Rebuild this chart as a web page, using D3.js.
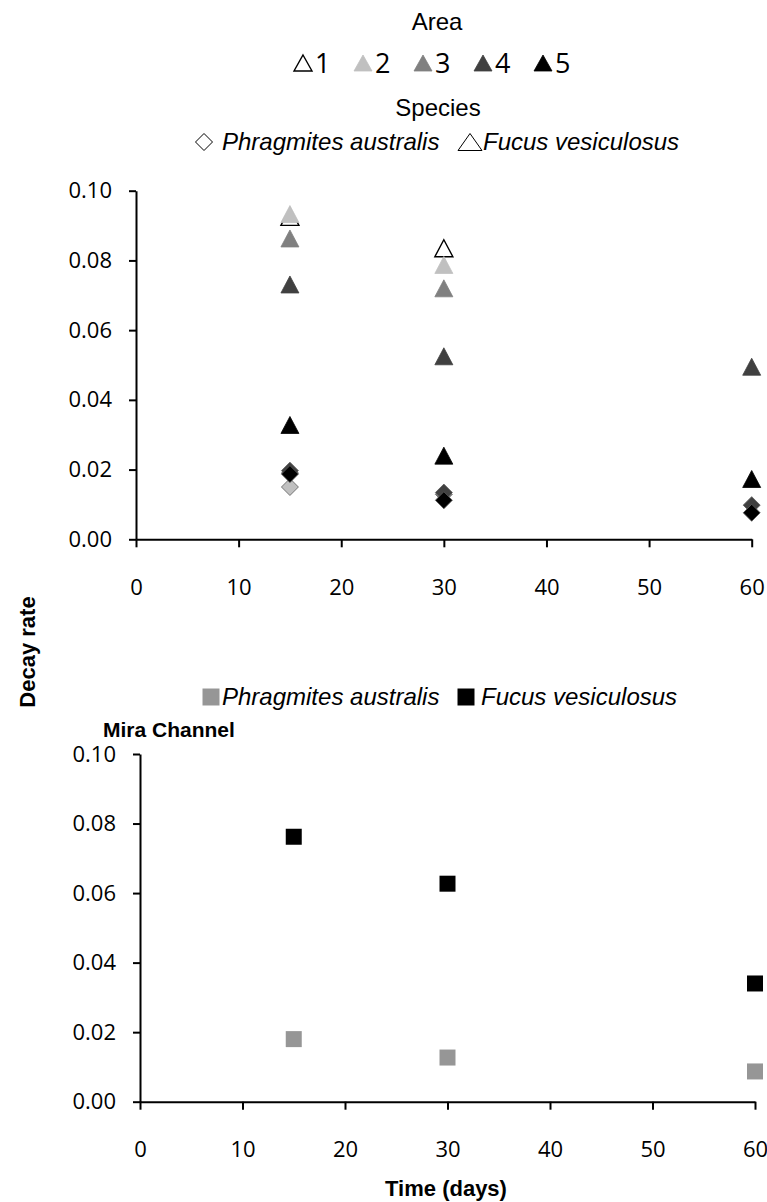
<!DOCTYPE html>
<html>
<head>
<meta charset="utf-8">
<script src="https://cdn.jsdelivr.net/npm/d3@7"></script>
<style>
  body { margin: 0; background: #fff; }
  .tick text { font-family: "Open Sans", sans-serif; font-size: 22px; fill: #000; }
  .lbl { font-family: "Liberation Sans", Arial, sans-serif; fill: #000; }
</style>
</head>
<body>
<div id="chart"></div>
<script>
/* DATA */
const days = [15, 30, 60];
const areas = ["1", "2", "3", "4", "5"];
const species = ["Phragmites australis", "Fucus vesiculosus"];
const xTicks = [0, 10, 20, 30, 40, 50, 60];
const yTicks = [0, 0.02, 0.04, 0.06, 0.08, 0.10];

// Fucus vesiculosus, decay rate by area (null = no value)
const fucusArea1 = [0.0925, 0.0835, null];
const fucusArea2 = [0.0933, 0.0787, null];
const fucusArea3 = [0.0863, 0.0720, null];
const fucusArea4 = [0.0731, 0.0525, 0.0495];
const fucusArea5 = [0.0328, 0.0240, 0.0173];

// Phragmites australis, decay rate by area
const phragArea1 = [null, null, null];
const phragArea2 = [0.0150, null, null];
const phragArea3 = [0.0190, 0.0129, null];
const phragArea4 = [0.0197, 0.0134, 0.0098];
const phragArea5 = [0.0187, 0.0112, 0.0076];

// Mira Channel
const miraPhrag = [0.0180, 0.0127, 0.0087];
const miraFucus = [0.0762, 0.0627, 0.0340];

/* STYLES */
const areaFill = ["#ffffff", "#c0c0c0", "#808080", "#404040", "#000000"];
const miraFill = ["#969696", "#000000"];

/* CONSTANTS */
const width = 767, height = 1202;
const top1 = {left: 136, right: 751.7, top: 190.7, bottom: 539.3};
const top2 = {left: 140, right: 755, top: 754, bottom: 1101.7};

const svg = d3.select("#chart").append("svg")
  .attr("width", width)
  .attr("height", height);

const triPath = (w, h) => `M0,${-h/2}L${w/2},${h/2}L${-w/2},${h/2}Z`;
const diaPath = r => `M0,${-r}L${r},0L0,${r}L${-r},0Z`;
const sqPath = s => `M${-s/2},${-s/2}h${s}v${s}h${-s}Z`;

/* AXES HELPER */
function drawAxes(box) {
  const x = d3.scaleLinear().domain([0, 60]).range([box.left, box.right]);
  const y = d3.scaleLinear().domain([0, 0.10]).range([box.bottom, box.top]);

  svg.append("g")
    .attr("transform", `translate(0,${box.bottom})`)
    .call(d3.axisBottom(x).tickValues(xTicks).tickSize(8).tickSizeOuter(0).tickPadding(32))
    .call(g => g.selectAll("line, path").attr("stroke", "#000").attr("stroke-width", 2));

  svg.append("g")
    .attr("transform", `translate(${box.left},0)`)
    .call(d3.axisLeft(y).tickValues(yTicks).tickFormat(d3.format(".2f")).tickSize(7).tickSizeOuter(0).tickPadding(17))
    .call(g => g.selectAll("line, path").attr("stroke", "#000").attr("stroke-width", 2));

  return {x, y};
}

/* UPPER CHART */
const s1 = drawAxes(top1);

const phragSeries = [phragArea1, phragArea2, phragArea3, phragArea4, phragArea5];
const fucusSeries = [fucusArea1, fucusArea2, fucusArea3, fucusArea4, fucusArea5];

const points = [];
phragSeries.forEach((arr, a) => arr.forEach((v, i) => {
  if (v != null) points.push({sp: 0, area: a, day: days[i], value: v});
}));
fucusSeries.forEach((arr, a) => arr.forEach((v, i) => {
  if (v != null) points.push({sp: 1, area: a, day: days[i], value: v});
}));

svg.append("g").selectAll("path")
  .data(points)
  .join("path")
    .attr("d", d => d.sp === 0 ? diaPath(8.5) : triPath(18, 17))
    .attr("transform", d => `translate(${s1.x(d.day)},${s1.y(d.value)})`)
    .attr("fill", d => areaFill[d.area])
    .attr("stroke", d => d.area === 0 ? "#000" : (d.sp === 0 ? "#5a5a5a" : areaFill[d.area]))
    .attr("stroke-width", d => d.area === 0 ? 1.4 : 0.8);

/* LEGENDS (TOP) */
svg.append("text").attr("class", "lbl")
  .attr("x", 437).attr("y", 30)
  .attr("text-anchor", "middle")
  .style("font-size", "24px")
  .text("Area");

const areaLeg = svg.append("g").selectAll("g")
  .data(areas)
  .join("g")
    .attr("transform", (d, i) => `translate(${303 + i * 60},63)`);

areaLeg.append("path")
  .attr("d", triPath(18, 16))
  .attr("fill", (d, i) => areaFill[i])
  .attr("stroke", (d, i) => i === 0 ? "#000" : areaFill[i])
  .attr("stroke-width", (d, i) => i === 0 ? 1.4 : 0.8);

areaLeg.append("text")
  .attr("x", 12).attr("y", 10)
  .style("font-family", "'Open Sans', sans-serif")
  .style("font-size", "27px")
  .text(d => d);

svg.append("text").attr("class", "lbl")
  .attr("x", 438).attr("y", 116)
  .attr("text-anchor", "middle")
  .style("font-size", "24px")
  .text("Species");

const spLeg = svg.append("g").selectAll("g")
  .data(species)
  .join("g")
    .attr("transform", (d, i) => i === 0 ? "translate(204,142)" : "translate(470,142)");

spLeg.append("path")
  .attr("d", (d, i) => i === 0 ? diaPath(8.5) : triPath(24, 17))
  .attr("fill", "#fff")
  .attr("stroke", "#000")
  .attr("stroke-width", 1);

spLeg.append("text").attr("class", "lbl")
  .attr("x", (d, i) => i === 0 ? 18 : 13)
  .attr("y", 8)
  .style("font-size", "24px")
  .style("font-style", "italic")
  .text(d => d);

/* LOWER CHART */
const s2 = drawAxes(top2);

const miraPoints = [];
[miraPhrag, miraFucus].forEach((arr, s) => arr.forEach((v, i) => {
  miraPoints.push({sp: s, day: days[i], value: v});
}));

svg.append("g").selectAll("path")
  .data(miraPoints)
  .join("path")
    .attr("d", sqPath(16))
    .attr("transform", d => `translate(${s2.x(d.day)},${s2.y(d.value)})`)
    .attr("fill", d => miraFill[d.sp]);

const miraLeg = svg.append("g").selectAll("g")
  .data(species)
  .join("g")
    .attr("transform", (d, i) => i === 0 ? "translate(211,697)" : "translate(466,697)");

miraLeg.append("path")
  .attr("d", sqPath(17))
  .attr("fill", (d, i) => miraFill[i]);

miraLeg.append("text").attr("class", "lbl")
  .attr("x", (d, i) => i === 0 ? 11 : 15)
  .attr("y", 8)
  .style("font-size", "24px")
  .style("font-style", "italic")
  .text(d => d);

svg.append("text").attr("class", "lbl")
  .attr("x", 103).attr("y", 737)
  .style("font-size", "21px")
  .style("font-weight", "bold")
  .text("Mira Channel");

/* AXIS TITLES */
svg.append("text").attr("class", "lbl")
  .attr("transform", "translate(35,652) rotate(-90)")
  .attr("text-anchor", "middle")
  .style("font-size", "22px")
  .style("font-weight", "bold")
  .text("Decay rate");

svg.append("text").attr("class", "lbl")
  .attr("x", 446).attr("y", 1196)
  .attr("text-anchor", "middle")
  .style("font-size", "22px")
  .style("font-weight", "bold")
  .text("Time (days)");
</script>
</body>
</html>
